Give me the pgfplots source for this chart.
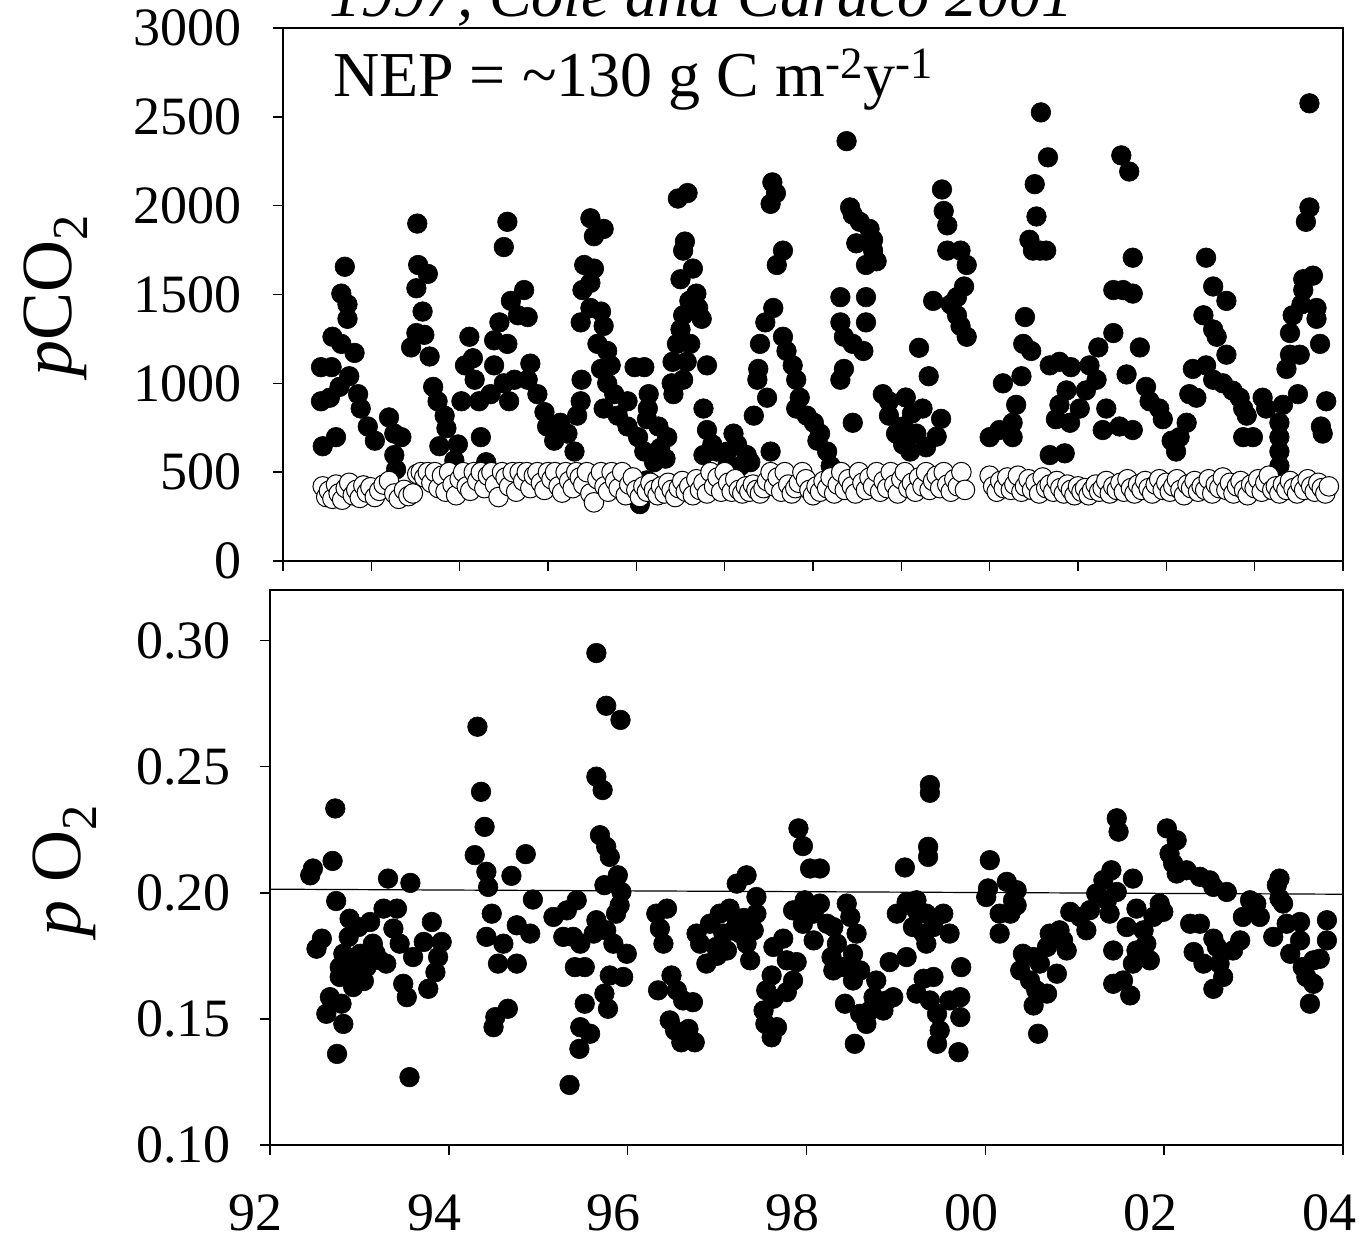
\documentclass[border=0pt]{standalone}
\usepackage{pgfplots}
\pgfplotsset{compat=1.18}
\usepackage{fontspec}
\setmainfont{Liberation Serif}
\begin{document}
\begin{tikzpicture}
\useasboundingbox (0pt,0pt) rectangle (680.5pt,620.5pt);
\pgfplotsset{
 every axis/.append style={
  scale only axis, axis line style={line width=0.8pt}, 
  tick style={line width=0.8pt, black},
  major tick length=5pt, tick align=outside, tick pos=left,
  /pgf/number format/assume math mode=true,
  /pgf/number format/1000 sep={},
  tick label style={font=\fontsize{27}{30}\selectfont},
 },
 fillpt/.style={only marks, mark=*, mark size=4.9pt, mark options={fill=black, draw=black, line width=0.3pt}},
 openpt/.style={only marks, mark=*, mark size=4.9pt, mark options={fill=white, draw=black, line width=0.5pt}},
}
% ---------------- top panel ----------------
\begin{axis}[at={(141.5pt,340pt)}, anchor=south west, width=530pt, height=266.5pt,
 xmin=92, xmax=104, ymin=0, ymax=3000,
 xtick={92,93,...,104}, xticklabels={},
 ytick={0,500,...,3000},
 yticklabel style={xshift=-12pt},
]
\addplot[fillpt] table {
92.43 1091
92.55 1091
92.43 899
92.53 919
92.45 646
92.60 697
92.64 980
92.75 1040
92.85 939
92.66 1505
92.73 1444
92.70 1656
92.56 1262
92.66 1222
92.81 1171
92.73 1363
92.88 858
92.96 757
93.04 677
93.20 808
93.26 717
93.34 697
93.26 596
93.28 515
93.52 1899
93.53 1666
93.64 1616
93.51 1535
93.58 1404
93.51 1283
93.45 1202
93.60 1273
93.66 1151
93.70 980
93.75 899
93.83 818
93.85 747
93.77 646
93.98 656
93.94 566
94.02 899
94.06 1101
94.11 1262
94.15 1141
94.17 1020
94.22 899
94.24 697
94.30 556
94.35 939
94.39 1242
94.45 1343
94.39 1101
94.50 1000
94.54 1222
94.54 1909
94.50 1767
94.58 1464
94.73 1525
94.66 1383
94.77 1373
94.56 899
94.62 1020
94.77 1020
94.80 1111
94.88 939
94.96 838
94.99 757
95.07 677
95.14 778
95.22 717
95.30 616
95.33 818
95.37 899
95.38 1020
95.48 1929
95.63 1869
95.52 1828
95.41 1666
95.52 1646
95.39 1525
95.48 1565
95.37 1343
95.48 1424
95.60 1404
95.63 1323
95.56 1222
95.67 1182
95.60 1081
95.71 1101
95.67 1000
95.75 939
95.63 858
95.79 818
95.90 899
95.98 1091
96.09 1091
95.90 757
96.02 697
96.09 616
96.13 858
96.14 939
96.12 798
96.25 757
96.35 697
96.27 636
96.20 556
96.33 576
96.12 454
96.04 320
96.40 1000
96.41 1121
96.46 1222
96.50 1303
96.53 1383
96.60 1464
96.68 1505
96.50 1586
96.64 1646
96.53 1747
96.55 1798
96.47 2040
96.58 2071
96.70 1424
96.74 1363
96.61 1222
96.57 1121
96.53 1020
96.42 939
96.80 1101
96.76 858
96.80 737
96.86 656
96.76 596
96.91 616
97.03 616
97.10 717
97.03 535
97.18 535
97.14 656
97.25 596
97.29 556
97.33 818
97.37 1020
97.38 1081
97.40 1222
97.46 1343
97.55 1424
97.59 1666
97.66 1747
97.52 2010
97.54 2131
97.58 2070
97.48 919
97.52 616
97.66 1262
97.70 1182
97.77 1101
97.81 1020
97.85 919
97.81 858
97.93 818
98.01 778
98.08 717
98.16 616
98.05 677
98.20 535
98.31 1485
98.31 1343
98.35 1262
98.35 1081
98.31 1020
98.38 2363
98.42 1990
98.45 1949
98.53 1909
98.64 1869
98.68 1808
98.68 1747
98.72 1687
98.49 1788
98.60 1666
98.60 1485
98.60 1343
98.45 1222
98.57 1182
98.45 778
98.79 939
98.86 899
98.86 818
98.94 717
99.02 656
99.10 616
99.02 757
99.17 717
99.24 858
99.31 1040
99.46 2091
99.48 1970
99.52 1889
99.52 1747
99.67 1747
99.74 1666
99.71 1545
99.63 1485
99.56 1444
99.36 1464
99.63 1383
99.67 1323
99.74 1262
99.20 1200
99.05 920
99.12 830
99.28 640
99.40 700
99.45 800
100.00 697
100.11 737
100.26 697
100.26 778
100.30 879
100.15 1000
100.36 1040
100.38 1222
100.40 1373
100.49 1747
100.57 1747
100.64 1747
100.45 1808
100.53 1939
100.51 2121
100.66 2272
100.58 2525
100.47 1182
100.68 1101
100.79 1121
100.92 1091
100.87 960
100.79 879
100.75 798
100.91 778
100.68 596
100.85 606
101.02 858
101.09 960
101.13 1101
101.23 1202
101.40 1283
101.40 1525
101.51 1525
101.62 1505
101.49 2283
101.58 2192
101.62 1707
101.55 1050
101.70 1202
101.21 1020
101.32 858
101.28 737
101.47 757
101.62 737
101.77 980
101.81 899
101.92 858
101.96 798
102.06 677
102.11 616
102.15 697
102.23 778
102.26 939
102.30 1081
102.34 919
102.45 1707
102.53 1545
102.42 1383
102.53 1303
102.68 1464
102.57 1262
102.68 1161
102.45 1101
102.53 1020
102.64 1000
102.75 959
102.83 919
102.87 858
102.91 818
102.87 697
102.98 697
103.09 919
103.13 858
103.28 778
103.28 697
103.28 616
103.28 535
103.32 879
103.36 1081
103.40 1161
103.40 1283
103.43 1383
103.53 1444
103.55 1586
103.66 1606
103.70 1424
103.70 1363
103.55 1525
103.49 939
103.51 1161
103.62 1990
103.58 1909
103.62 2576
103.74 1222
103.81 899
103.77 717
103.75 757
};
\addplot[openpt] table {
92.45 420
92.49 360
92.52 395
92.56 350
92.60 430
92.63 380
92.67 345
92.71 410
92.75 440
92.79 370
92.83 400
92.87 355
92.91 425
92.95 385
92.99 415
93.04 360
93.09 395
93.14 430
93.20 450
93.26 380
93.31 350
93.37 400
93.42 365
93.47 380
93.52 490
93.56 500
93.60 470
93.64 500
93.68 440
93.72 500
93.76 410
93.80 480
93.84 390
93.88 500
93.92 430
93.96 370
94.00 460
94.04 500
94.08 420
94.12 395
94.16 500
94.20 450
94.24 500
94.28 410
94.32 480
94.36 500
94.40 430
94.44 360
94.48 500
94.52 470
94.56 420
94.60 500
94.64 390
94.68 500
94.72 450
94.76 500
94.80 410
94.84 480
94.88 500
94.92 440
94.96 400
95.00 500
95.04 460
95.08 500
95.12 420
95.16 385
95.20 500
95.24 450
95.28 410
95.32 500
95.36 470
95.40 430
95.44 500
95.48 380
95.52 330
95.56 460
95.60 500
95.64 420
95.68 390
95.72 500
95.76 450
95.80 410
95.84 500
95.88 370
95.92 430
95.96 470
96.00 400
96.04 360
96.08 420
96.12 390
96.16 440
96.20 400
96.24 370
96.28 420
96.32 380
96.36 440
96.40 400
96.44 360
96.48 410
96.52 450
96.56 390
96.60 420
96.64 370
96.68 460
96.72 400
96.76 440
96.80 380
96.84 500
96.88 420
96.92 470
96.96 390
97.00 500
97.04 440
97.08 390
97.12 460
97.16 400
97.20 380
97.24 420
97.28 390
97.32 430
97.36 400
97.40 380
97.44 410
97.48 450
97.52 500
97.56 420
97.60 470
97.64 390
97.68 500
97.72 430
97.76 380
97.80 410
97.84 440
97.88 500
97.92 460
97.96 400
98.00 370
98.04 420
98.08 390
98.12 450
98.16 410
98.20 470
98.24 380
98.28 430
98.32 500
98.36 400
98.40 460
98.44 420
98.48 380
98.52 500
98.56 440
98.60 400
98.64 470
98.68 420
98.72 500
98.76 390
98.80 450
98.84 410
98.88 500
98.92 430
98.96 380
99.00 460
99.04 500
99.08 410
99.12 440
99.16 390
99.20 470
99.24 420
99.28 500
99.32 400
99.36 450
99.40 480
99.44 410
99.48 500
99.52 430
99.56 390
99.60 460
99.64 420
99.68 500
99.72 400
100.00 480
100.04 420
100.08 390
100.12 450
100.16 410
100.20 470
100.24 400
100.28 430
100.32 480
100.36 390
100.40 420
100.44 460
100.48 400
100.52 440
100.56 380
100.60 470
100.64 410
100.68 430
100.72 390
100.76 450
100.80 410
100.84 380
100.88 430
100.92 400
100.96 370
101.00 420
101.04 390
101.08 410
101.12 370
101.16 400
101.20 430
101.24 390
101.28 410
101.32 450
101.36 380
101.40 420
101.44 400
101.48 440
101.52 390
101.56 460
101.60 410
101.64 380
101.68 430
101.72 400
101.76 450
101.80 410
101.84 380
101.88 430
101.92 460
101.96 400
102.00 440
102.04 390
102.08 420
102.12 460
102.16 400
102.20 370
102.24 430
102.28 410
102.32 450
102.36 390
102.40 420
102.44 400
102.48 460
102.52 380
102.56 430
102.60 410
102.64 470
102.68 400
102.72 440
102.76 380
102.80 420
102.84 450
102.88 400
102.92 370
102.96 430
103.00 410
103.04 460
103.08 390
103.12 440
103.16 480
103.20 400
103.24 420
103.28 380
103.32 430
103.36 400
103.40 450
103.44 410
103.48 380
103.52 430
103.56 400
103.60 460
103.64 420
103.68 390
103.72 440
103.76 410
103.80 380
103.84 420
};
\end{axis}
% ---------------- bottom panel ----------------
\begin{axis}[at={(135pt,48pt)}, anchor=south west, width=536.5pt, height=277.5pt,
 xmin=92, xmax=104, ymin=0.10, ymax=0.32,
 xtick={92,94,...,104}, xticklabels={92,94,96,98,00,02,04},
 ytick={0.10,0.15,...,0.31},
 yticklabel style={/pgf/number format/fixed, /pgf/number format/fixed zerofill, /pgf/number format/precision=2, xshift=-11pt},
 xticklabel style={inner sep=0pt, yshift=-19.5pt, xshift=-7pt},
]
\addplot[black, line width=0.6pt] coordinates {(92,0.2014) (104,0.1994)};
\addplot[fillpt] table {
92.45 0.2069
92.48 0.2096
92.73 0.2334
92.70 0.2126
92.74 0.1967
92.89 0.1897
92.99 0.1864
92.88 0.1825
92.58 0.1818
92.52 0.1778
92.82 0.1758
92.78 0.1705
92.97 0.1732
92.78 0.1666
92.93 0.1626
92.67 0.1586
92.80 0.1560
92.63 0.1520
92.82 0.1480
92.75 0.1361
93.12 0.1884
93.27 0.1937
93.42 0.1937
93.32 0.2056
93.57 0.2039
93.38 0.1858
93.15 0.1798
93.23 0.1732
93.30 0.1719
93.45 0.1798
93.60 0.1745
93.49 0.1639
93.53 0.1586
93.77 0.1619
93.85 0.1685
93.88 0.1745
93.92 0.1805
93.81 0.1884
93.72 0.1805
93.56 0.1269
93.08 0.1705
93.01 0.1758
92.90 0.1680
93.05 0.1650
93.18 0.1760
94.32 0.2658
94.36 0.2400
94.40 0.2261
94.29 0.2149
94.42 0.2083
94.44 0.2023
94.48 0.1917
94.42 0.1825
94.55 0.1719
94.61 0.1798
94.52 0.1507
94.50 0.1467
94.66 0.1540
94.76 0.1719
94.70 0.2067
94.86 0.2153
94.76 0.1871
94.91 0.1838
94.94 0.1973
95.17 0.1904
95.32 0.1930
95.43 0.1970
95.39 0.1825
95.47 0.1798
95.28 0.1825
95.41 0.1705
95.52 0.1705
95.47 0.1467
95.58 0.1441
95.52 0.1560
95.74 0.1600
95.78 0.1540
95.46 0.1381
95.35 0.1238
95.65 0.2950
95.76 0.2741
95.92 0.2685
95.65 0.2460
95.72 0.2407
95.69 0.2228
95.76 0.2182
95.80 0.2142
95.74 0.2030
95.89 0.2069
95.93 0.2003
95.91 0.1950
95.87 0.1917
95.65 0.1891
95.76 0.1851
95.62 0.1838
95.84 0.1798
95.99 0.1758
95.95 0.1666
95.80 0.1672
96.32 0.1917
96.44 0.1937
96.36 0.1858
96.40 0.1798
96.34 0.1613
96.49 0.1672
96.55 0.1613
96.73 0.1566
96.62 0.1573
96.47 0.1494
96.53 0.1454
96.60 0.1407
96.75 0.1407
96.68 0.1460
96.81 0.1798
96.77 0.1838
96.88 0.1719
96.99 0.1785
96.92 0.1877
97.03 0.1917
97.14 0.1937
97.22 0.1891
97.26 0.1838
97.11 0.1771
97.07 0.1838
97.33 0.1798
97.37 0.1732
97.41 0.1851
97.44 0.1917
97.44 0.1983
97.22 0.2036
97.33 0.2069
97.00 0.1750
97.18 0.1850
97.30 0.1900
97.63 0.1785
97.74 0.1818
97.78 0.1732
97.89 0.1725
97.61 0.1672
97.55 0.1613
97.52 0.1533
97.54 0.1480
97.61 0.1427
97.67 0.1467
97.63 0.1580
97.78 0.1606
97.85 0.1652
97.91 0.2255
97.96 0.2185
98.04 0.2096
98.15 0.2096
97.85 0.1930
97.95 0.1944
97.98 0.1970
98.15 0.1957
98.08 0.1917
97.96 0.1877
98.08 0.1811
98.23 0.1877
98.30 0.1864
98.45 0.1957
98.49 0.1904
98.34 0.1798
98.28 0.1745
98.30 0.1692
98.41 0.1705
98.56 0.1838
98.52 0.1758
98.60 0.1692
98.52 0.1652
98.43 0.1560
98.54 0.1401
98.60 0.1520
98.67 0.1480
98.75 0.1586
98.78 0.1652
98.90 0.1573
98.97 0.1586
98.93 0.1725
99.12 0.1745
98.86 0.1533
98.71 0.1533
99.10 0.2100
99.23 0.1600
99.31 0.1659
99.42 0.1666
99.38 0.1573
99.46 0.1520
99.49 0.1454
99.46 0.1401
99.70 0.1368
99.60 0.1573
99.72 0.1586
99.72 0.1507
99.73 0.1705
99.38 0.2427
99.38 0.2396
99.36 0.2182
99.36 0.2142
99.01 0.1917
99.12 0.1963
99.23 0.1970
99.23 0.1930
99.34 0.1917
99.19 0.1864
99.31 0.1838
99.34 0.1798
99.53 0.1917
99.60 0.1838
99.42 0.1864
100.05 0.2129
100.03 0.2017
100.01 0.1983
100.24 0.2043
100.35 0.2010
100.31 0.1970
100.35 0.1950
100.28 0.1917
100.16 0.1917
100.16 0.1838
100.42 0.1758
100.39 0.1692
100.54 0.1745
100.61 0.1719
100.50 0.1652
100.57 0.1613
100.69 0.1600
100.54 0.1553
100.59 0.1441
100.72 0.1838
100.83 0.1851
100.87 0.1811
100.91 0.1771
100.80 0.1679
100.69 0.1785
100.95 0.1924
101.06 0.1904
101.13 0.1851
101.17 0.1931
101.24 0.1997
101.32 0.2050
101.41 0.2089
101.39 0.1917
101.36 0.1970
101.47 0.2003
101.47 0.2295
101.49 0.2242
101.43 0.1771
101.43 0.1639
101.54 0.1652
101.62 0.1593
101.58 0.1864
101.65 0.2056
101.69 0.1937
101.77 0.1851
101.80 0.1798
101.84 0.1732
101.65 0.1719
101.69 0.1771
101.88 0.1904
101.95 0.1957
101.99 0.1924
102.03 0.2255
102.14 0.2208
102.06 0.2155
102.10 0.2116
102.14 0.2076
102.25 0.2089
102.40 0.2063
102.51 0.2049
102.55 0.2023
102.70 0.2003
102.29 0.1877
102.40 0.1877
102.33 0.1765
102.44 0.1719
102.55 0.1818
102.59 0.1785
102.62 0.1719
102.55 0.1619
102.66 0.1666
102.77 0.1771
102.85 0.1811
102.88 0.1904
102.96 0.1970
103.03 0.1957
103.07 0.1904
103.22 0.1825
103.29 0.2056
103.26 0.2030
103.29 0.1977
103.33 0.1957
103.37 0.1877
103.52 0.1884
103.41 0.1758
103.52 0.1811
103.55 0.1705
103.59 0.1666
103.67 0.1639
103.63 0.1560
103.67 0.1732
103.74 0.1738
103.82 0.1891
103.82 0.1811
};
\end{axis}
% ---------------- texts ----------------
\node[anchor=base west, font=\fontsize{32}{36}\selectfont\itshape] at (161pt,612pt) {1997, Cole and Caraco 2001};
\node[anchor=base west, font=\fontsize{32}{36}\selectfont] at (163pt,572pt) {NEP = \textasciitilde130 g C m\textsuperscript{-2}y\textsuperscript{-1}};
\node[rotate=90, font=\fontsize{36}{40}\selectfont] at (28pt,473pt) {\textit{p}CO\textsubscript{2}};
\node[rotate=90, font=\fontsize{36}{40}\selectfont] at (32.5pt,185.5pt) {\textit{p} O\textsubscript{2}};
\end{tikzpicture}
\end{document}
